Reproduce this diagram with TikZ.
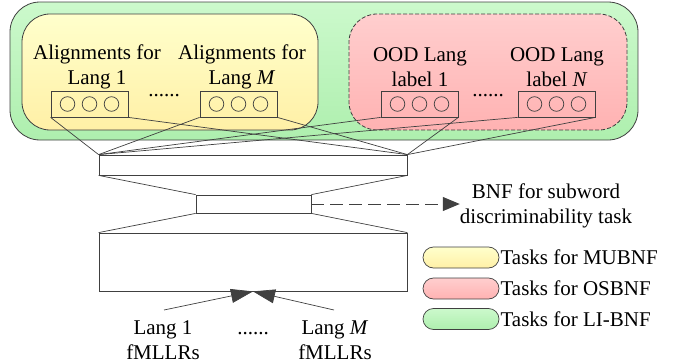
\documentclass[tikz,border=0pt]{standalone}
\usepackage{fontspec}
\setmainfont{Liberation Serif}
\newfontfamily\tnr{Liberation Serif}
\usetikzlibrary{arrows.meta}
\definecolor{ln}{HTML}{404040}
\definecolor{gtop}{HTML}{CCF9CC}
\definecolor{gbot}{HTML}{AEEFAE}
\definecolor{ytop}{HTML}{FFFFCC}
\definecolor{ybot}{HTML}{FFF0A6}
\definecolor{rtop}{HTML}{FFCECE}
\definecolor{rbot}{HTML}{FFB2B2}
\begin{document}
\begin{tikzpicture}[x=1pt,y=-1pt,
  every node/.style={font=\tnr\fontsize{21}{25}\selectfont, text=black},
  lbl/.style={align=center, inner sep=0pt},
  outbox/.style={draw=ln, line width=0.8pt, minimum width=77pt, minimum height=26pt, inner sep=0pt},
  unit/.style={draw=ln, line width=0.7pt, circle, minimum size=14.6pt, inner sep=0pt},
  layer/.style={draw=ln, line width=0.8pt, inner sep=0pt},
  conn/.style={draw=ln, line width=0.7pt},
  legbox/.style={draw=ln, line width=0.7pt, rounded corners=10.5pt, minimum width=76pt, minimum height=21pt, inner sep=0pt},
  legtxt/.style={anchor=west, inner sep=0pt}
]
\useasboundingbox (0,0) rectangle (694,364);
% group backgrounds
\node[draw=ln, line width=0.8pt, rounded corners=30pt, top color=gtop, bottom color=gbot,
  minimum width=628pt, minimum height=138pt, inner sep=0pt] (green) at (324,71) {};
\node[draw=ln, line width=0.8pt, rounded corners=28pt, top color=ytop, bottom color=ybot,
  minimum width=296pt, minimum height=116pt, inner sep=0pt] (yellow) at (170,72) {};
\node[draw=ln, line width=0.8pt, dash pattern=on 4pt off 2pt, rounded corners=28pt, top color=rtop, bottom color=rbot,
  minimum width=278pt, minimum height=116pt, inner sep=0pt] (red) at (488,72) {};
% labels
\node[lbl] (t1) at (97,67) {Alignments for\\Lang 1};
\node[lbl] (t2) at (242,67) {Alignments for\\Lang \textit{M}};
\node[lbl] (t3) at (420,67) {OOD Lang\\label 1};
\node[lbl] (t4) at (557,67) {OOD Lang\\label \textit{N}};
% output boxes
\node[outbox] (o1) at (89.5,104) {};
\node[outbox] (o2) at (238.5,104) {};
\node[outbox] (o3) at (419.5,104) {};
\node[outbox] (o4) at (556.5,104) {};
\foreach \b in {o1,o2,o3,o4}{
  \node[unit] (\b a) at ([xshift=-22pt]\b.center) {};
  \node[unit] (\b b) at (\b.center) {};
  \node[unit] (\b c) at ([xshift=22pt]\b.center) {};
}
\node[lbl] (d1) at (164,96) {......};
\node[lbl] (d2) at (488,96) {......};
% layers
\node[layer, minimum width=308pt, minimum height=20pt] (L1) at (253,165) {};
\node[layer, minimum width=115pt, minimum height=18pt] (bn) at (253.5,204) {};
\node[layer, minimum width=308pt, minimum height=58pt] (L3) at (253,262) {};
% connectors from outputs to first layer
\foreach \b in {o1,o2,o3,o4}{
  \draw[conn] (\b.south west) -- (L1.north west);
  \draw[conn] (\b.south east) -- (L1.north east);
}
\draw[conn] (L1.south west) -- (bn.north west);
\draw[conn] (L1.south east) -- (bn.north east);
\draw[conn] (bn.south west) -- (L3.north west);
\draw[conn] (bn.south east) -- (L3.north east);
% BNF output
\node[lbl] (bnf) at (546,206) {BNF for subword\\discriminability task};
\draw[conn, line width=1pt, dash pattern=on 13pt off 6pt, -{Triangle[length=17pt,width=14pt]}] (bn.east) -- (bnf.west |- bn.east);
% inputs
\node[lbl] (in1) at (163,340) {Lang 1\\fMLLRs};
\node[lbl] (in2) at (335,340) {Lang \textit{M}\\fMLLRs};
\node[lbl] (d3) at (253,334) {......};
\coordinate (s1) at (164,310);
\coordinate (s2) at (334,310);
\draw[conn, -{Triangle[length=22pt,width=14pt]}] (s1) -- (L3.south);
\draw[conn, -{Triangle[length=22pt,width=14pt]}] (s2) -- (L3.south);
% legend
\node[legbox, top color=ytop, bottom color=ybot] (ly) at (461,257.5) {};
\node[legbox, top color=rtop, bottom color=rbot] (lr) at (461,288.5) {};
\node[legbox, top color=gtop, bottom color=gbot] (lg) at (461,319) {};
\node[legtxt] (tly) at ([xshift=1pt]ly.east) {Tasks for MUBNF};
\node[legtxt] (tlr) at ([xshift=1pt]lr.east) {Tasks for OSBNF};
\node[legtxt] (tlg) at ([xshift=1pt]lg.east) {Tasks for LI-BNF};
\end{tikzpicture}
\end{document}
